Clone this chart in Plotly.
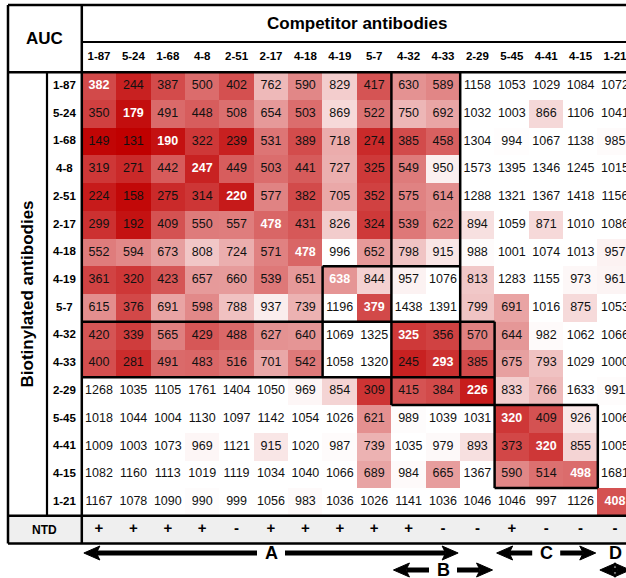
import plotly.graph_objects as go

# ---------------- data ----------------
competitors = ["1-87", "5-24", "1-68", "4-8", "2-51", "2-17", "4-18", "4-19",
               "5-7", "4-32", "4-33", "2-29", "5-45", "4-41", "4-15", "1-21"]
biotinylated = ["1-87", "5-24", "1-68", "4-8", "2-51", "2-17", "4-18", "4-19",
                "5-7", "4-32", "4-33", "2-29", "5-45", "4-41", "4-15", "1-21"]

row_1_87 = [382, 244, 387, 500, 402, 762, 590, 829, 417, 630, 589, 1158, 1053, 1029, 1084, 1072]
row_5_24 = [350, 179, 491, 448, 508, 654, 503, 869, 522, 750, 692, 1032, 1003, 866, 1106, 1041]
row_1_68 = [149, 131, 190, 322, 239, 531, 389, 718, 274, 385, 458, 1304, 994, 1067, 1138, 985]
row_4_8 = [319, 271, 442, 247, 449, 503, 441, 727, 325, 549, 950, 1573, 1395, 1346, 1245, 1015]
row_2_51 = [224, 158, 275, 314, 220, 577, 382, 705, 352, 575, 614, 1288, 1321, 1367, 1418, 1156]
row_2_17 = [299, 192, 409, 550, 557, 478, 431, 826, 324, 539, 622, 894, 1059, 871, 1010, 1086]
row_4_18 = [552, 594, 673, 808, 724, 571, 478, 996, 652, 798, 915, 988, 1001, 1074, 1013, 957]
row_4_19 = [361, 320, 423, 657, 660, 539, 651, 638, 844, 957, 1076, 813, 1283, 1155, 973, 961]
row_5_7 = [615, 376, 691, 598, 788, 937, 739, 1196, 379, 1438, 1391, 799, 691, 1016, 875, 1053]
row_4_32 = [420, 339, 565, 429, 488, 627, 640, 1069, 1325, 325, 356, 570, 644, 982, 1062, 1066]
row_4_33 = [400, 281, 491, 483, 516, 701, 542, 1058, 1320, 245, 293, 385, 675, 793, 1029, 1000]
row_2_29 = [1268, 1035, 1105, 1761, 1404, 1050, 969, 854, 309, 415, 384, 226, 833, 766, 1633, 991]
row_5_45 = [1018, 1044, 1004, 1130, 1097, 1142, 1054, 1026, 621, 989, 1039, 1031, 320, 409, 926, 1006]
row_4_41 = [1009, 1003, 1073, 969, 1121, 915, 1020, 987, 739, 1035, 979, 893, 373, 320, 855, 1005]
row_4_15 = [1082, 1160, 1113, 1019, 1119, 1034, 1040, 1066, 689, 984, 665, 1367, 590, 514, 498, 1681]
row_1_21 = [1167, 1078, 1090, 990, 999, 1056, 983, 1036, 1026, 1141, 1036, 1046, 1046, 997, 1126, 408]

auc = [row_1_87, row_5_24, row_1_68, row_4_8, row_2_51, row_2_17, row_4_18, row_4_19,
       row_5_7, row_4_32, row_4_33, row_2_29, row_5_45, row_4_41, row_4_15, row_1_21]

ntd = ["+", "+", "+", "+", "-", "+", "+", "+", "+", "+", "-", "-", "+", "-", "-", "-"]

# competition groups: (label, first column, last column, arrow level)
groups = [("A", 0, 10, 0), ("B", 9, 11, 1), ("C", 12, 14, 0), ("D", 15, 15, 0)]

# thick boxes: horizontal (row boundary, col from, col to), vertical (col boundary, row from, row to)
h_box = [(7, 7, 11), (9, 0, 12), (11, 0, 12), (12, 9, 15), (15, 12, 15)]
v_box = [(7, 7, 11), (9, 0, 12), (11, 0, 11), (12, 9, 15), (15, 12, 15)]

# ---------------- geometry ----------------
W, H = 626, 578
CW, RH = 34.4, 27.73      # cell size in px
X0, Y0 = 99.0, 86.0       # px centre of first cell


def px_x(p):
    return (p - X0) / CW


def px_y(p):
    return (p - Y0) / RH


n = len(competitors)
FONT = "Liberation Sans, Arial, sans-serif"

left = px_x(8)
lab_split = px_x(47)
top = px_y(5)
head_split = px_y(42)
d0 = -0.5
d1 = n - 0.5
ntd_bot = n + 0.5
right = n + 1

fig = go.Figure()

fig.add_trace(go.Heatmap(
    z=auc, x=list(range(n)), y=list(range(n)),
    colorscale=[[0, "rgb(192,0,0)"], [1, "rgb(255,255,255)"]],
    zmin=131, zmax=1000, showscale=False, hoverinfo="skip"))

# cell texts
nx, ny, nt, dx_, dy_, dt = [], [], [], [], [], []
for i, row in enumerate(auc):
    for j, v in enumerate(row):
        if i == j:
            dx_.append(j); dy_.append(i); dt.append(str(v))
        else:
            nx.append(j); ny.append(i); nt.append(str(v))
fig.add_trace(go.Scatter(x=nx, y=ny, text=nt, mode="text", hoverinfo="skip",
                         textfont=dict(family=FONT, size=12.5, color="#111")))
fig.add_trace(go.Scatter(x=dx_, y=dy_, text=dt, mode="text", hoverinfo="skip",
                         textfont=dict(family=FONT, size=12.5, color="white", weight="bold")))

# column labels
fig.add_trace(go.Scatter(x=list(range(n)), y=[px_y(57)] * n, text=competitors, mode="text",
                         hoverinfo="skip",
                         textfont=dict(family=FONT, size=11.5, color="black", weight="bold")))
# row labels
fig.add_trace(go.Scatter(x=[(lab_split + d0) / 2] * n, y=list(range(n)), text=biotinylated,
                         mode="text", hoverinfo="skip",
                         textfont=dict(family=FONT, size=11.5, color="black", weight="bold")))
# NTD row
fig.add_trace(go.Scatter(x=list(range(n)), y=[n] * n, text=ntd, mode="text", hoverinfo="skip",
                         textfont=dict(family=FONT, size=15, color="black", weight="bold")))

shapes = []
# NTD background
shapes.append(dict(type="rect", x0=left, x1=right, y0=d1, y1=ntd_bot, xref="x", yref="y",
                   fillcolor="#efefef", line=dict(width=0), layer="below"))

LW = 2.5


def seg(x0, y0, x1, y1, w=LW):
    shapes.append(dict(type="line", x0=x0, y0=y0, x1=x1, y1=y1, xref="x", yref="y",
                       line=dict(color="black", width=w)))


# table frame
seg(left, top, right, top)
seg(left, top, left, ntd_bot)
seg(left, ntd_bot, right, ntd_bot)
seg(d0, head_split, right, head_split, 2.2)
seg(left, d0, right, d0)
seg(left, d1, right, d1)
seg(d0, top, d0, ntd_bot)
seg(lab_split, d0, lab_split, d1, 2.2)

# group boxes
for r, c0, c1 in h_box:
    seg(c0 - 0.5, r - 0.5, c1 - 0.5, r - 0.5)
for c, r0, r1 in v_box:
    seg(c - 0.5, r0 - 0.5, c - 0.5, r1 - 0.5)

# arrows
ARROW_Y = [px_y(553), px_y(570)]
HEAD_L = 16 / CW
HEAD_H = 7 / RH
NOTCH = 3.5 / CW
SHAFT = 5


def head(xt, y, d):
    xb = xt - d * HEAD_L
    xn = xt - d * (HEAD_L - NOTCH)
    shapes.append(dict(type="path", xref="x", yref="y",
                       path=f"M {xt},{y} L {xb},{y - HEAD_H} L {xn},{y} L {xb},{y + HEAD_H} Z",
                       fillcolor="black", line=dict(color="black", width=1)))


annotations = []
GAP = 14 / CW
for lab, c0, c1, lev in groups:
    xl = c0 - 0.5 + 0.06
    xr = c1 + 0.5 - 0.06
    xc = (c0 + c1) / 2
    if c0 == c1:
        # narrow group: letter on top, double arrow underneath
        annotations.append(dict(x=xc, y=ARROW_Y[lev], text=lab, showarrow=False, xref="x", yref="y",
                                font=dict(family=FONT, size=18, color="black", weight="bold")))
        y = ARROW_Y[lev + 1]
        seg(xl + HEAD_L * 0.8, y, xr - HEAD_L * 0.8, y, SHAFT)
        head(xl, y, -1)
        head(xr, y, 1)
        continue
    y = ARROW_Y[lev]
    seg(xl + HEAD_L * 0.8, y, xc - GAP, y, SHAFT)
    seg(xc + GAP, y, xr - HEAD_L * 0.8, y, SHAFT)
    head(xl, y, -1)
    head(xr, y, 1)
    annotations.append(dict(x=xc, y=y, text=lab, showarrow=False, xref="x", yref="y",
                            font=dict(family=FONT, size=18, color="black", weight="bold")))

annotations += [
    dict(x=(left + d0) / 2, y=(top + d0) / 2, text="AUC", showarrow=False, xref="x", yref="y",
         font=dict(family=FONT, size=17, color="black", weight="bold")),
    dict(x=(d0 + d1) / 2, y=(top + head_split) / 2, text="Competitor antibodies", showarrow=False,
         xref="x", yref="y", font=dict(family=FONT, size=17, color="black", weight="bold")),
    dict(x=(left + lab_split) / 2, y=(d0 + d1) / 2, text="Biotinylated antibodies", showarrow=False,
         textangle=-90, xref="x", yref="y",
         font=dict(family=FONT, size=17, color="black", weight="bold")),
    dict(x=(left + d0) / 2, y=n, text="NTD", showarrow=False, xref="x", yref="y",
         font=dict(family=FONT, size=12, color="black", weight="bold")),
]

fig.update_layout(
    width=W, height=H, margin=dict(l=0, r=0, t=0, b=0),
    paper_bgcolor="white", plot_bgcolor="white", showlegend=False,
    xaxis=dict(range=[px_x(0), px_x(W)], visible=False, fixedrange=True),
    yaxis=dict(range=[px_y(H), px_y(0)], visible=False, fixedrange=True),
    shapes=shapes, annotations=annotations,
)

fig.write_html("out.html")
